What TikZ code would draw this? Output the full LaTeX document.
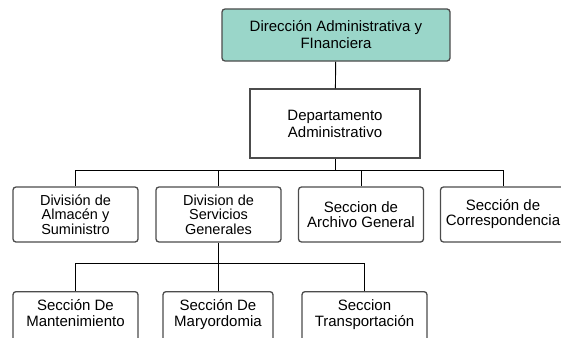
\documentclass[tikz,border=0pt]{standalone}
\usepackage{fontspec}
\setmainfont{Liberation Sans}
\usetikzlibrary{positioning}
\definecolor{dirteal}{RGB}{154,214,201}

\begin{document}
\begin{tikzpicture}[
  x=1pt,y=-1pt,
  every node/.style={font=\fontsize{15}{17}\selectfont,align=center,inner sep=0pt},
  unit/.style={draw=black!70,line width=1.3pt,rounded corners=3pt,fill=white,minimum width=125pt,minimum height=55pt},
  tight/.style={font=\fontsize{14.5}{14.5}\selectfont},
  link/.style={draw,line width=0.9pt}]

\useasboundingbox (0,0) rectangle (561,337);
\clip (0,0) rectangle (561,337);

\node[unit,fill=dirteal,minimum width=228pt,minimum height=52pt] (dir) at (336,35) {Dirección Administrativa y\\FInanciera};
\node[unit,rounded corners=0pt,minimum width=170pt,minimum height=69pt] (dep) at (335,123.5) {Departamento\\Administrativo};

% divisiones
\node[unit,tight] (alm) at (75.5,214.5) {División de\\Almacén y\\Suministro};
\node[unit,tight] (ser) at (218.5,214.5) {Division de\\Servicios\\Generales};
\node[unit,font=\fontsize{15}{15}\selectfont] (arc) at (361,214.5) {Seccion de\\Archivo General};
\node[unit,font=\fontsize{15}{15}\selectfont] (cor) at (503,214.5) {Sección de\\Correspondencia};

% secciones
\node[unit,anchor=north,inner ysep=8pt,text depth=40pt,font=\fontsize{15}{15.5}\selectfont] (man) at (75.5,291) {Sección De\\Mantenimiento};
\node[unit,anchor=north,inner ysep=8pt,text depth=40pt,font=\fontsize{15}{15.5}\selectfont,minimum width=110pt] (may) at (218,291) {Sección De\\Maryordomia};
\node[unit,anchor=north,inner ysep=8pt,text depth=40pt,font=\fontsize{15}{15.5}\selectfont] (tra) at (364.5,291) {Seccion\\Transportación};

\draw[link] (dir) -- (dep);
\draw[link] (dep.south) -- ++(0,11.5) coordinate (bus1);
\foreach \n in {alm,ser,arc,cor}
  \draw[link] (bus1) -| (\n.north);
\draw[link] (ser.south) -- ++(0,21) coordinate (bus2);
\foreach \n in {man,may,tra}
  \draw[link] (bus2) -| (\n.north);
\end{tikzpicture}
\end{document}
